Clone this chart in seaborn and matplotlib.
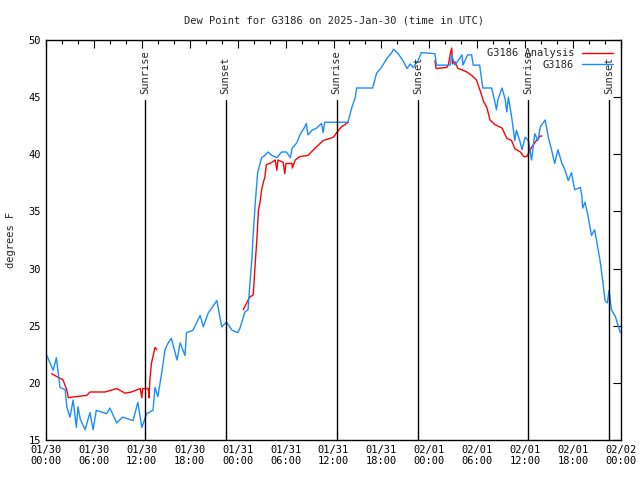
import pandas as pd
import matplotlib
matplotlib.use("Agg")
import matplotlib.pyplot as plt
import matplotlib.dates as mdates
import seaborn as sns

# hours after 2025-01-30 00:00 UTC
obs_hours = [0.1, 0.9, 1.3, 1.75, 2.4, 2.6, 3.0, 3.4, 3.8, 4.0, 4.3, 4.9, 5.5, 5.9,
             6.3, 7.6, 8.0, 8.85, 9.6, 10.9, 11.5, 12.0, 12.6, 13.4, 13.65, 14.0,
             14.5, 14.9, 15.3, 15.7, 16.4, 16.8, 17.4, 17.6, 18.4, 19.3, 19.7, 20.3,
             21.4, 22.0, 22.6, 23.3, 24.0, 24.3, 24.9, 25.3, 25.5, 25.8, 25.9, 26.2,
             26.5, 27.0, 27.4, 27.8, 28.3, 28.9, 29.5, 30.1, 30.6, 30.8, 31.4, 31.8,
             32.4, 32.6, 32.8, 33.3, 33.9, 34.5, 34.7, 34.9, 37.8, 38.3, 38.7, 38.9,
             40.9, 41.4, 42.0, 42.7, 43.3, 43.5, 44.1, 44.7, 45.2, 45.6, 46.0, 46.6,
             47.0, 48.7, 48.9, 50.6, 50.8, 51.2, 52.1, 52.2, 52.8, 53.3, 53.5, 54.3,
             54.7, 55.8, 56.2, 56.4, 56.6, 57.1, 57.5, 57.7, 57.9, 58.3, 58.7, 58.9,
             59.4, 59.6, 60.0, 60.4, 60.8, 61.2, 61.6, 61.9, 62.5, 62.9, 63.3, 63.7,
             64.1, 64.6, 65.0, 65.4, 65.8, 66.2, 66.9, 67.1, 67.2, 67.5, 67.9, 68.3,
             68.7, 69.0, 69.4, 69.7, 70.0, 70.3, 70.5, 70.8, 71.3, 71.7, 71.9]
obs_dew = [22.4, 21.1, 22.2, 19.6, 19.4, 17.9, 17.0, 18.5, 16.1, 17.9, 16.8, 15.9, 17.4, 15.9,
           17.6, 17.3, 17.8, 16.5, 17.0, 16.7, 18.3, 16.1, 17.3, 17.6, 19.6, 18.8,
           20.9, 22.9, 23.5, 23.9, 22.0, 23.5, 22.4, 24.4, 24.6, 25.9, 24.9, 26.1,
           27.2, 24.9, 25.3, 24.6, 24.4, 24.8, 26.2, 26.4, 28.4, 31.0, 32.5, 35.7,
           38.4, 39.7, 39.9, 40.2, 39.9, 39.7, 40.2, 40.2, 39.7, 40.5, 41.0, 41.7,
           42.4, 42.7, 41.7, 42.1, 42.3, 42.7, 41.9, 42.8, 42.8, 44.1, 44.9, 45.8,
           45.8, 47.1, 47.6, 48.4, 48.9, 49.2, 48.8, 48.2, 47.5, 47.9, 47.6, 48.2,
           48.9, 48.8, 47.8, 47.8, 48.7, 47.8, 48.7, 47.8, 48.7, 48.7, 47.8, 47.8,
           45.8, 45.8, 44.6, 43.9, 44.8, 45.8, 44.8, 43.7, 45.0, 43.3, 41.2, 42.1,
           41.0, 40.4, 41.5, 41.2, 39.5, 41.8, 41.2, 42.4, 43.0, 41.5, 40.4, 39.2,
           40.4, 39.2, 38.6, 37.7, 38.4, 36.9, 37.1, 36.4, 35.3, 35.8, 34.5, 32.9,
           33.4, 32.2, 30.6, 29.0, 27.2, 27.0, 28.1, 26.4, 25.8, 24.9, 24.4]

ana_hours = [0.7, 1.75, 2.1, 2.6, 2.8, 3.8, 5.1, 5.5, 7.4, 8.85, 9.9, 10.7, 11.8, 12.0,
             12.1, 12.8, 12.9, 13.0, 13.2, 13.65, 13.9,
             24.7, 25.5, 25.95, 26.2, 26.4, 26.6, 26.8, 27.0, 27.2, 27.4, 27.6, 28.05,
             28.7, 28.9, 29.05, 29.7, 29.9, 30.05, 30.8, 30.85, 31.2, 31.8, 32.8, 33.5,
             34.1, 34.7, 35.6, 36.0, 36.4, 37.0, 37.85,
             48.7, 48.85, 50.2, 50.4, 50.6, 50.8, 50.9, 51.2, 51.6, 52.05, 52.7, 53.3,
             53.9, 54.35, 54.8, 55.2, 55.6, 56.2, 57.1, 57.7, 58.3, 58.7, 59.4, 59.8,
             60.2, 60.8, 61.4, 61.9, 62.1]
ana_dew = [20.8, 20.4, 20.3, 19.4, 18.7, 18.8, 18.9, 19.2, 19.2, 19.5, 19.1, 19.2, 19.5, 18.7,
           19.5, 19.5, 18.7, 20.2, 21.7, 23.1, 22.9,
           26.4, 27.5, 27.7, 30.5, 32.5, 35.1, 35.8, 36.9, 37.5, 38.0, 39.1, 39.2,
           39.5, 38.6, 39.5, 39.3, 38.3, 39.2, 39.2, 38.8, 39.5, 39.8, 39.9, 40.4,
           40.8, 41.2, 41.4, 41.5, 41.9, 42.4, 42.8,
           48.2, 47.5, 47.6, 47.9, 48.7, 49.3, 47.9, 48.1, 47.5, 47.4, 47.2, 46.9,
           46.5, 45.6, 44.6, 44.1, 43.0, 42.6, 42.3, 41.4, 41.2, 40.5, 40.2, 39.8,
           39.8, 40.6, 41.2, 41.6, 41.6]
ana_segment = [1] * 21 + [2] * 31 + [3] * 29

sun_hours = [12.4, 22.5, 36.4, 46.6, 60.4, 70.5]
sun_labels = ["Sunrise", "Sunset", "Sunrise", "Sunset", "Sunrise", "Sunset"]

base = pd.Timestamp("2025-01-30 00:00")
obs = pd.DataFrame({"time": base + pd.to_timedelta(obs_hours, unit="h"), "dew": obs_dew})
ana = pd.DataFrame({"time": base + pd.to_timedelta(ana_hours, unit="h"), "dew": ana_dew,
                    "seg": ana_segment})

sns.set_style("white")
plt.rcParams["font.family"] = ["DejaVu Sans Mono"]
plt.rcParams["font.size"] = 7

fig = plt.figure(figsize=(6.4, 4.8), dpi=100)
ax = fig.add_axes([46 / 640, 40 / 480, 575 / 640, 400 / 480])

sns.lineplot(data=ana, x="time", y="dew", units="seg", estimator=None, color="#ff0000",
             lw=1, ax=ax, label="G3186 Analysis")
sns.lineplot(data=obs, x="time", y="dew", color="#1a8cff", lw=1, ax=ax, label="G3186")

for h, lab in zip(sun_hours, sun_labels):
    t = base + pd.Timedelta(hours=h)
    ax.axvline(t, ymin=0, ymax=0.85, color="black", lw=1)
    ax.text(t, 0.865, lab, transform=ax.get_xaxis_transform(), rotation=90,
            ha="center", va="bottom", fontsize=7.5)

ax.set_xlim(base, base + pd.Timedelta(hours=72))
ax.set_ylim(15, 50)
ax.set_yticks(range(15, 51, 5))
ax.xaxis.set_major_locator(mdates.HourLocator(byhour=range(0, 24, 6)))
ax.xaxis.set_minor_locator(mdates.HourLocator(byhour=range(0, 24, 2)))
ax.xaxis.set_major_formatter(mdates.DateFormatter("%m/%d\n%H:%M"))
ax.tick_params(which="both", direction="in", top=True, right=True, colors="black",
               labelsize=7.5)
ax.tick_params(which="major", length=6, width=0.8)
ax.tick_params(which="minor", length=3, width=0.8)
for s in ax.spines.values():
    s.set_color("black")
    s.set_linewidth(1)

ax.set_xlabel("")
ax.set_ylabel("degrees F", fontsize=7.5, labelpad=9)
ax.set_title("Dew Point for G3186 on 2025-Jan-30 (time in UTC)", fontsize=7.5, pad=12)

# one legend entry per series
handles, labels = ax.get_legend_handles_labels()
seen = {}
for hnd, lab in zip(handles, labels):
    seen.setdefault(lab, hnd)
ax.legend(list(seen.values()), list(seen.keys()), loc="upper right", frameon=False,
          markerfirst=False, fontsize=7.5, handlelength=2.9, handletextpad=0.8,
          borderaxespad=0.6, borderpad=0.2, labelspacing=0.15)

fig.savefig("out.png", dpi=100)
